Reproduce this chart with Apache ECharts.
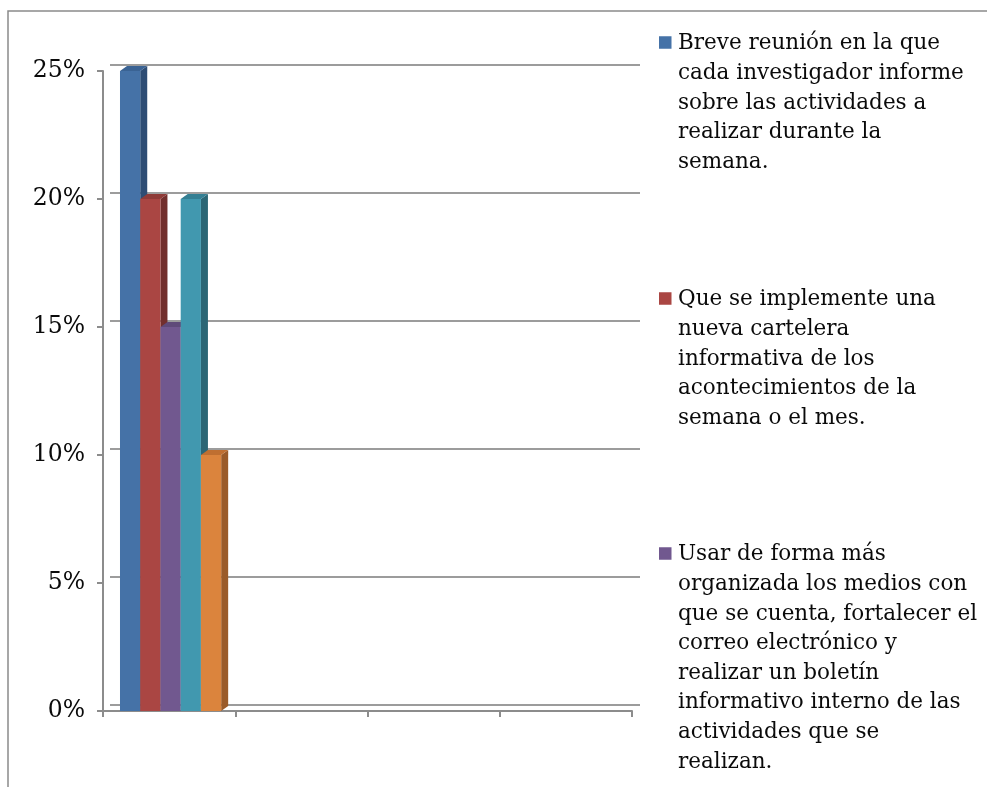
<!DOCTYPE html>
<html><head><meta charset="utf-8">
<script src="https://cdn.jsdelivr.net/npm/echarts@6/dist/echarts.min.js"></script>
<style>html,body{margin:0;padding:0;background:#fff;overflow:hidden}#c{width:987px;height:787px}</style>
</head><body><div id="c"></div>
<script>
// ---- data ----
const categories = ['', '', '', ''];
const yTickValues = [0, 5, 10, 15, 20, 25];
const seriesNames = [
  'Breve reunión en la que cada investigador informe sobre las actividades a realizar durante la semana.',
  'Que se implemente una nueva cartelera informativa de los acontecimientos de la semana o el mes.',
  'Usar de forma más organizada los medios con que se cuenta, fortalecer el correo electrónico y realizar un boletín informativo interno de las actividades que se realizan.',
  'Serie 4',
  'Serie 5'
];
const legendLines1 = ['Breve reunión en la que', 'cada investigador informe', 'sobre las actividades a', 'realizar durante la', 'semana.'];
const legendLines2 = ['Que se implemente una', 'nueva cartelera', 'informativa de los', 'acontecimientos de la', 'semana o el mes.'];
const legendLines3 = ['Usar de forma más', 'organizada los medios con', 'que se cuenta, fortalecer el', 'correo electrónico y', 'realizar un boletín', 'informativo interno de las', 'actividades que se', 'realizan.'];
const values1 = [25, null, null, null];
const values2 = [20, null, null, null];
const values3 = [15, null, null, null];
const values4 = [20, null, null, null];
const values5 = [10, null, null, null];

// ---- styles ----
const FONT = '"DejaVu Serif", serif';
const palette = [
  { front: '#4572A7', side: '#2E4D74', top: '#3A6394' },
  { front: '#AA4643', side: '#722F2D', top: '#8F3B38' },
  { front: '#71588F', side: '#4B3A60', top: '#5F4A79' },
  { front: '#4198AF', side: '#2B6675', top: '#347F93' },
  { front: '#DB843D', side: '#9A5B29', top: '#BF6F31' }
];
const allValues = [values1, values2, values3, values4, values5];
const legendLineSets = [legendLines1, legendLines2, legendLines3];
const DX = 7, DY = -5;

function toPairs(arr) {
  const out = [];
  arr.forEach((v, i) => { if (v !== null) out.push([i, v]); });
  return out;
}

function makeRender(si) {
  const c = palette[si];
  return function (params, api) {
    const cat = api.value(0), v = api.value(1);
    const base = api.coord([cat, 0]);
    const top = api.coord([cat, v]);
    const band = api.size([1, 0])[0];
    const bw = band * 0.153;
    const x0 = base[0] - band / 2 + band * 0.1285 + si * bw;
    const x1 = x0 + bw;
    const yT = top[1], yB = base[1];
    return {
      type: 'group',
      children: [
        { type: 'polygon', shape: { points: [[x1, yT], [x1 + DX, yT + DY], [x1 + DX, yB + DY], [x1, yB]] }, style: { fill: c.side } },
        { type: 'rect', shape: { x: x0, y: yT, width: bw, height: yB - yT }, style: { fill: c.front } },
        { type: 'polygon', shape: { points: [[x0, yT], [x0 + DX, yT + DY], [x1 + DX, yT + DY], [x1, yT]] }, style: { fill: c.top } }
      ]
    };
  };
}

const L = 29.6;
function legendFor(k, topPx) {
  const lines = legendLineSets[k];
  const n = lines.length;
  const H = n * L;
  const a = L / 2 - 7.5;
  return {
    show: true,
    data: [seriesNames[k]],
    left: 659,
    top: topPx,
    padding: 0,
    orient: 'vertical',
    itemWidth: 14,
    itemHeight: H,
    symbolKeepAspect: false,
    icon: 'path://M0,0M0,' + a + 'h12.5v12.5h-12.5ZM14,' + H,
    selectedMode: false,
    formatter: function () { return lines.join('\n'); },
    textStyle: { fontFamily: FONT, fontSize: 21.5, lineHeight: L, color: '#0a0a0a' }
  };
}

const chart = echarts.init(document.getElementById('c'), null, { renderer: 'canvas' });
chart.setOption({
  animation: false,
  backgroundColor: '#fff',
  graphic: [{
    type: 'polyline', z: -10, silent: true,
    shape: { points: [[8, 800], [8, 11], [992, 11]] },
    style: { fill: null, stroke: '#8a8a8a', lineWidth: 1.5 }
  }],
  grid: [
    { left: 103, right: 355, top: 71, bottom: 76 },
    { left: 110, right: 347, top: 65, bottom: 82 }
  ],
  xAxis: [
    {
      type: 'category', gridIndex: 0, data: categories, boundaryGap: true,
      axisLine: { show: true, lineStyle: { color: '#8c8c8c', width: 2 } },
      axisTick: { show: true, length: 6, lineStyle: { color: '#8c8c8c', width: 2 } },
      axisLabel: { show: false }, splitLine: { show: false }
    },
    {
      type: 'category', gridIndex: 1, data: categories, show: false
    }
  ],
  yAxis: [
    {
      type: 'value', gridIndex: 0, min: 0, max: 25, interval: 5,
      axisLine: { show: true, lineStyle: { color: '#8c8c8c', width: 2 } },
      axisTick: { show: true, length: 6, lineStyle: { color: '#8c8c8c', width: 2 } },
      axisLabel: {
        margin: 18, fontFamily: FONT, fontSize: 23.5, color: '#0a0a0a',
        formatter: function (v) { return yTickValues.indexOf(v) >= 0 ? v + '%' : ''; }
      },
      splitLine: { show: false }
    },
    {
      type: 'value', gridIndex: 1, min: 0, max: 25, interval: 5,
      axisLine: { show: false }, axisTick: { show: false }, axisLabel: { show: false },
      splitLine: { show: true, lineStyle: { color: '#9c9c9c', width: 2 } }
    }
  ],
  legend: [legendFor(0, 29), legendFor(1, 285), legendFor(2, 540)],
  series: allValues.map(function (vals, si) {
    return {
      type: 'custom',
      name: seriesNames[si],
      xAxisIndex: 0, yAxisIndex: 0,
      itemStyle: { color: palette[si].front },
      renderItem: makeRender(si),
      encode: { x: 0, y: 1 },
      data: toPairs(vals),
      z: 2 + si
    };
  })
});
</script>
</body></html>
